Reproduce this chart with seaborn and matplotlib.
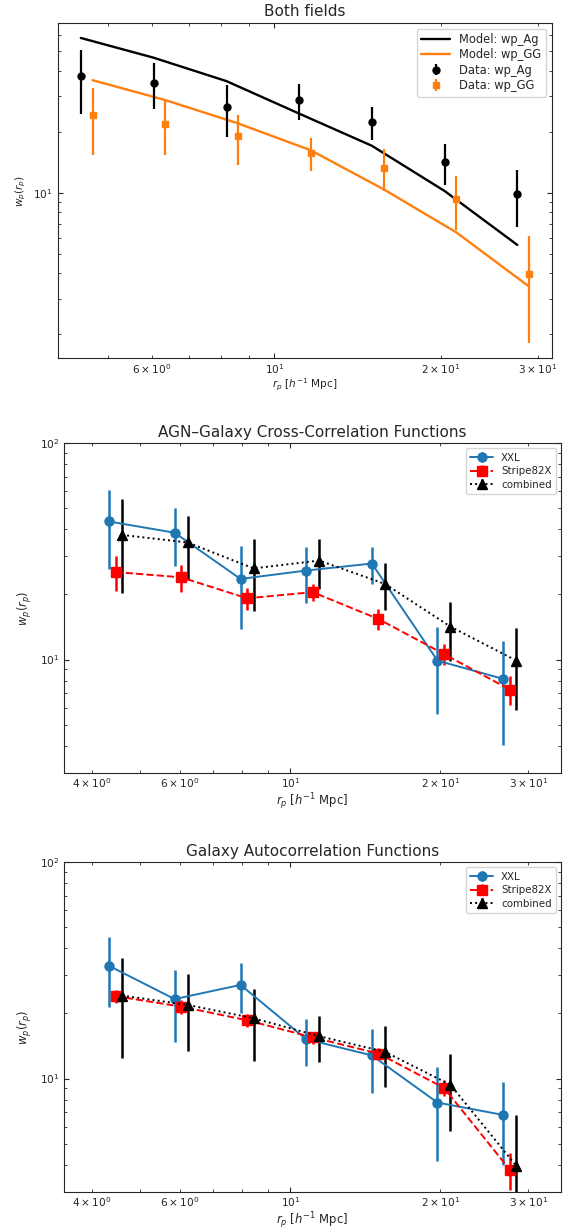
import numpy as np
import pandas as pd
import matplotlib
matplotlib.use("Agg")
import matplotlib.pyplot as plt
import seaborn as sns

# Projected separation bins [h^-1 Mpc]
rp = [4.46, 6.04, 8.19, 11.09, 15.02, 20.34, 27.55]

# Combined-field measurements
wp_ag = [37.7, 34.8, 26.4, 28.7, 22.4, 14.2, 9.9]
wp_ag_err = [13.3, 8.9, 7.5, 5.7, 4.25, 3.25, 3.1]
wp_gg = [24.2, 21.9, 19.0, 15.7, 13.3, 9.35, 3.95]
wp_gg_err = [8.9, 6.6, 5.3, 2.9, 3.1, 2.8, 2.15]

# Best-fit models
model_ag = [58.2, 46.5, 35.6, 24.6, 17.06, 10.2, 5.52]
model_gg = [36.0, 28.7, 22.0, 16.2, 10.4, 6.37, 3.44]

# AGN-galaxy cross-correlation per field
cross_xxl = [43.5, 38.6, 23.6, 25.8, 27.8, 9.89, 8.14]
cross_xxl_err = [17.3, 11.5, 9.8, 7.5, 5.5, 4.3, 4.1]
cross_s82 = [25.4, 24.0, 19.2, 20.5, 15.4, 10.6, 7.27]
cross_s82_err = [4.7, 3.5, 2.2, 1.9, 1.65, 1.2, 1.1]
cross_comb_err = [17.3, 11.5, 9.7, 7.5, 5.5, 4.35, 4.05]

# Galaxy autocorrelation per field
auto_xxl = [33.2, 23.3, 27.1, 15.2, 12.8, 7.74, 6.79]
auto_xxl_err = [11.7, 8.5, 7.0, 3.75, 4.2, 3.6, 2.8]
auto_s82 = [24.05, 21.5, 18.6, 15.5, 13.05, 9.05, 3.79]
auto_s82_err = [1.7, 1.6, 1.2, 1.0, 0.8, 0.77, 0.75]
auto_comb_err = [11.7, 8.5, 7.0, 3.75, 4.2, 3.6, 2.8]

sns.set_style("ticks")
plt.rcParams["font.family"] = ["DejaVu Sans"]
plt.rcParams["mathtext.fontset"] = "dejavusans"

DPI = 100
fig = plt.figure(figsize=(569 / DPI, 1229 / DPI), dpi=DPI)
ax1 = fig.add_axes([0.1014, 0.7085, 0.8682, 0.2730])
ax2 = fig.add_axes([0.1130, 0.3713, 0.8729, 0.2680])
ax3 = fig.add_axes([0.1130, 0.0304, 0.8729, 0.2680])

r = np.array(rp)
orange = "#ff7f0e"
blue = "#1f77b4"

for ax in (ax1, ax2, ax3):
    ax.set_xscale("log")
    ax.set_yscale("log")

# --- Both fields: data and models ---
models = pd.DataFrame({"rp": np.concatenate([r, r * 1.05]),
                       "wp": model_ag + model_gg,
                       "kind": ["Model: wp_Ag"] * 7 + ["Model: wp_GG"] * 7})
sns.lineplot(data=models, x="rp", y="wp", hue="kind",
             palette={"Model: wp_Ag": "black", "Model: wp_GG": orange},
             lw=1.7, ax=ax1, legend=False, sort=False)
ax1.lines[0].set_label("Model: wp_Ag")
ax1.lines[1].set_label("Model: wp_GG")
ax1.errorbar(r, wp_ag, yerr=wp_ag_err, fmt="o", color="black", ms=5,
             elinewidth=1.6, label="Data: wp_Ag")
ax1.errorbar(r * 1.05, wp_gg, yerr=wp_gg_err, fmt="s", color=orange, ms=5,
             elinewidth=1.6, label="Data: wp_GG")
ax1.set_xlim(4.05, 31.8)
ax1.set_ylim(1.52, 69.2)
ax1.set_title("Both fields", fontsize=11, pad=4.5)
ax1.legend(loc="upper right", fontsize=8.3, labelspacing=0.2,
           handlelength=2.5)


def field_panel(ax, xxl, xxl_err, s82, s82_err, comb, comb_err, title):
    ax.errorbar(r * 0.97, xxl, yerr=xxl_err, fmt="-o", color=blue, lw=1.4,
                ms=6.5, elinewidth=1.8, label="XXL")
    ax.errorbar(r, s82, yerr=s82_err, fmt="--s", color="red", lw=1.4,
                ms=6.5, elinewidth=1.8, label="Stripe82X")
    ax.errorbar(r * 1.03, comb, yerr=comb_err, fmt=":^", color="black", lw=1.4,
                ms=6.5, elinewidth=1.8, label="combined")
    ax.set_xlim(3.52, 34.9)
    ax.set_ylim(3, 100)
    ax.set_title(title, fontsize=11, pad=4.5)
    ax.legend(loc="upper right", fontsize=7.4, handlelength=2.2,
              labelspacing=0.35)


field_panel(ax2, cross_xxl, cross_xxl_err, cross_s82, cross_s82_err,
            wp_ag, cross_comb_err, "AGN\u2013Galaxy Cross-Correlation Functions")
field_panel(ax3, auto_xxl, auto_xxl_err, auto_s82, auto_s82_err,
            wp_gg, auto_comb_err, "Galaxy Autocorrelation Functions")

for ax, fs in ((ax1, 7.6), (ax2, 8.4), (ax3, 8.4)):
    ax.tick_params(which="both", direction="in", top=True, right=True,
                   labelsize=7.6)
    ax.tick_params(axis="x", which="both", pad=2.8)
    ax.set_xlabel(r"$r_p$ [$h^{-1}$ Mpc]", fontsize=fs, labelpad=0.5)
    ax.set_ylabel(r"$w_p(r_p)$", fontsize=fs)

fig.savefig("out.png", dpi=DPI)
